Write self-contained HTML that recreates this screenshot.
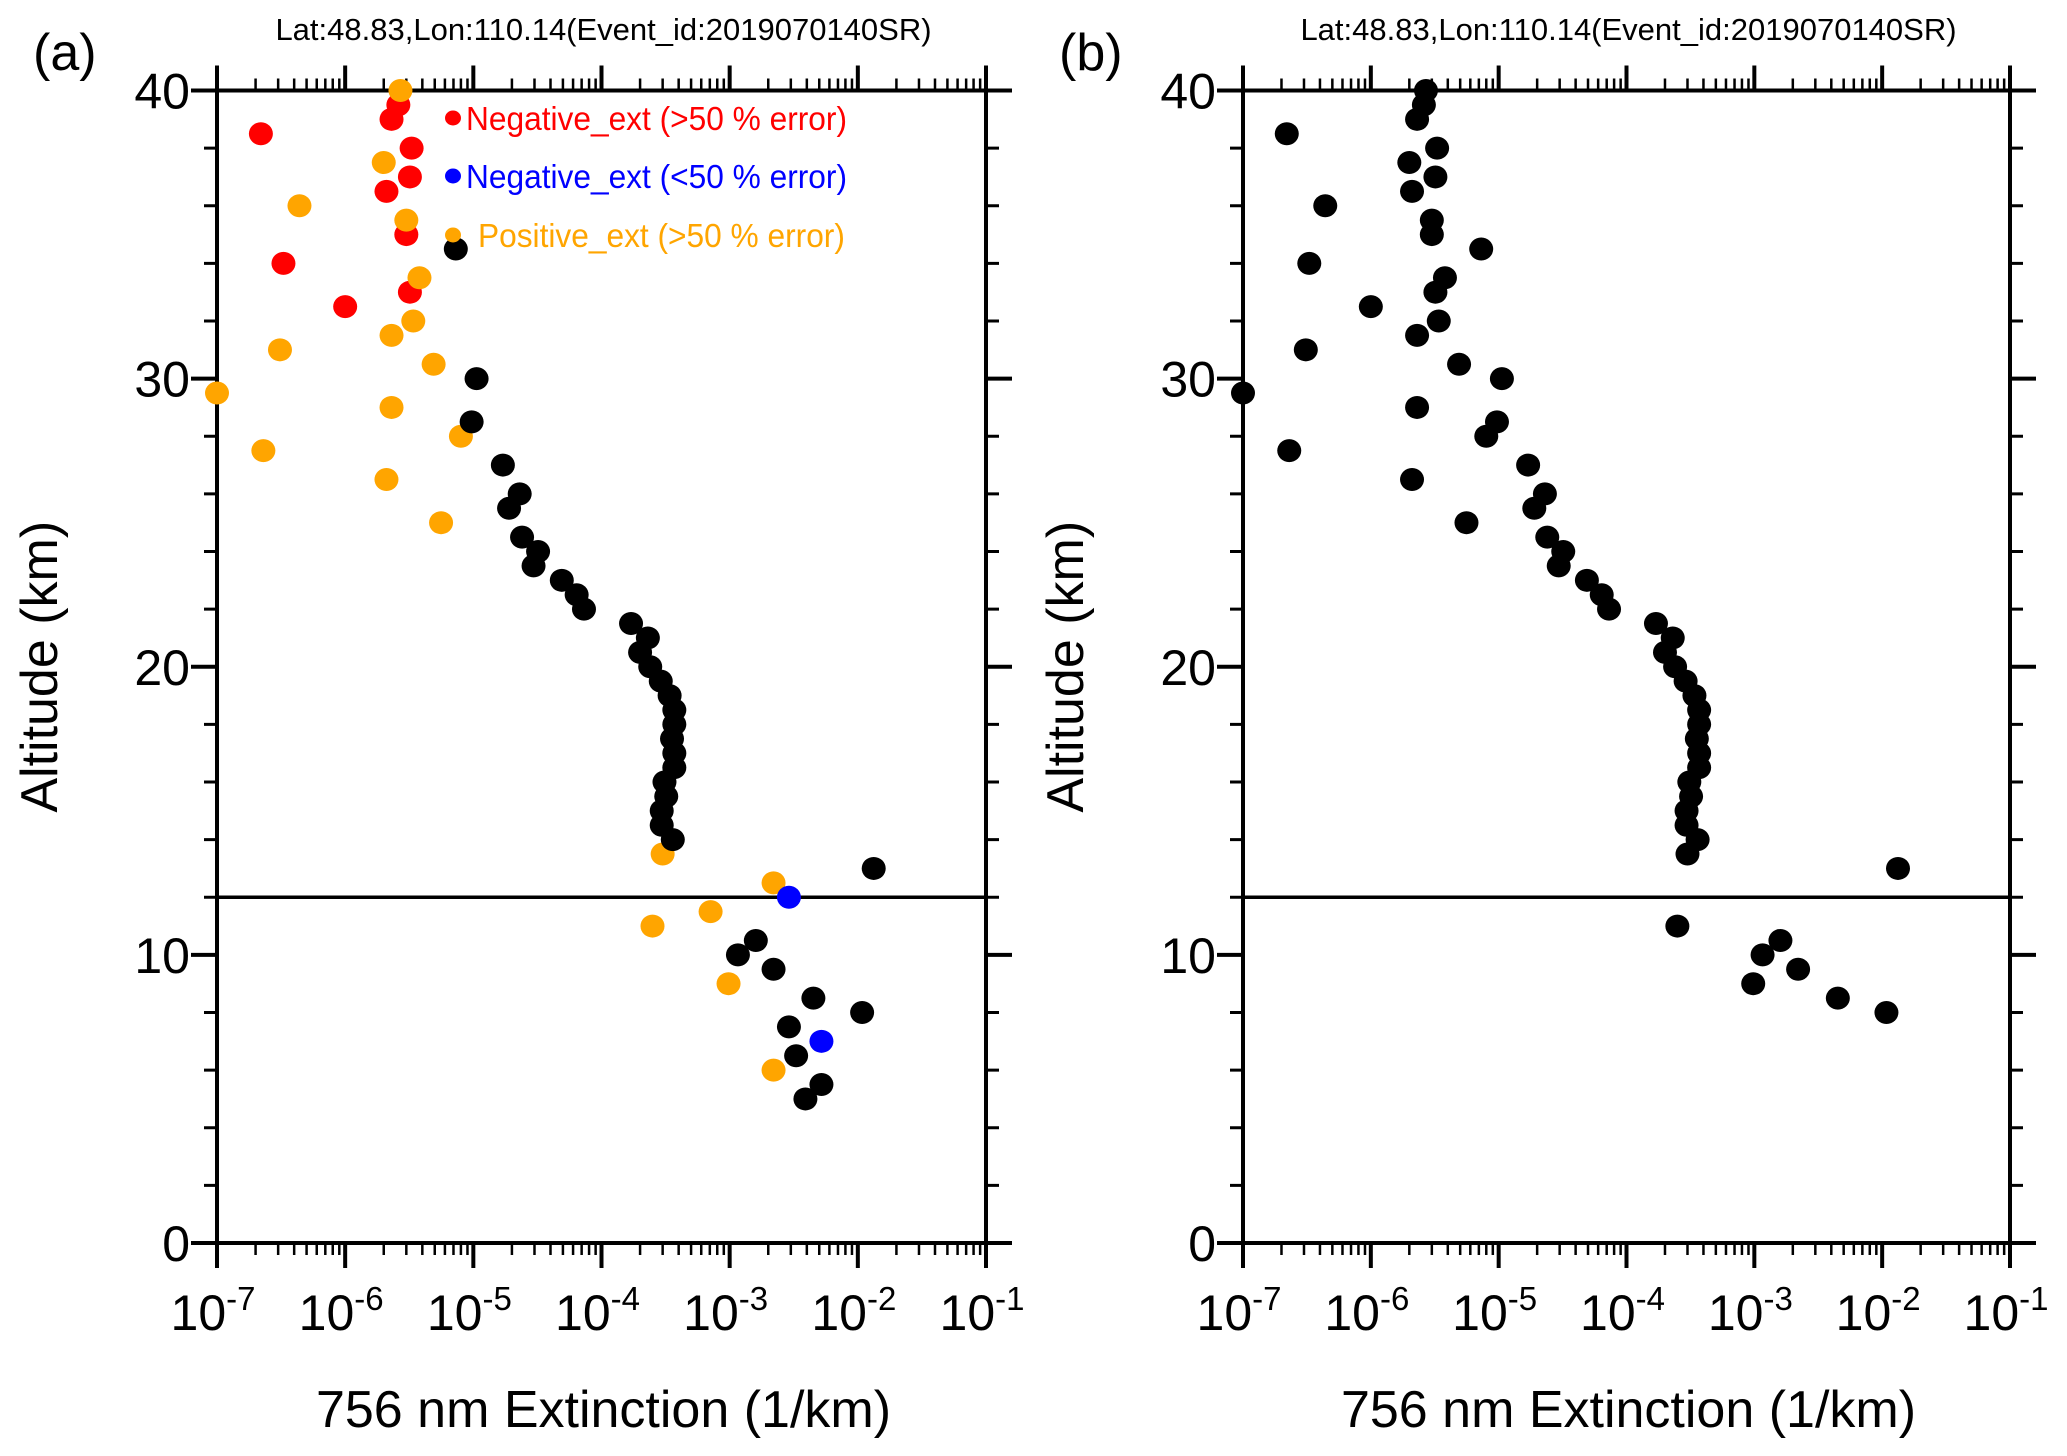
<!DOCTYPE html>
<html><head><meta charset="utf-8"><style>
html,body{margin:0;padding:0;background:#fff;}
svg{display:block;font-family:"Liberation Sans",sans-serif;}
</style></head><body>
<svg id="chart" width="2067" height="1456" viewBox="0 0 2067 1456"></svg>
<script>
const altitudes = [38.5,39,39.5,38,36.5,37,35,34,33,32.5,
  40,37.5,36,35.5,33.5,32,31.5,31,30.5,29.5,29,28,27.5,26.5,25,13.5,12.5,11,11.5,9,6,
  12,7,
  34.5,30,28.5,27,26,25.5,24.5,24,23.5,23,22.5,22,21.5,21,20.5,20,19.5,19,18.5,18,17.5,17,16.5,16,15.5,15,14.5,14,13,10.5,10,9.5,8.5,8,7.5,6.5,5.5,5];
const extinction = [2.2e-7,2.3e-6,2.6e-6,3.3e-6,2.1e-6,3.2e-6,3.0e-6,3.3e-7,3.2e-6,1.0e-6,
  2.7e-6,2.0e-6,4.4e-7,3.0e-6,3.8e-6,3.4e-6,2.3e-6,3.1e-7,4.9e-6,1.0e-7,2.3e-6,8.0e-6,2.3e-7,2.1e-6,5.6e-6,3.0e-4,2.2e-3,2.5e-4,7.1e-4,9.8e-4,2.2e-3,
  2.9e-3,5.2e-3,
  7.3e-6,1.06e-5,9.7e-6,1.7e-5,2.3e-5,1.9e-5,2.4e-5,3.2e-5,2.95e-5,4.9e-5,6.4e-5,7.3e-5,1.7e-4,2.3e-4,2.0e-4,2.4e-4,2.9e-4,3.4e-4,3.7e-4,3.7e-4,3.55e-4,3.7e-4,3.7e-4,3.1e-4,3.2e-4,2.95e-4,2.95e-4,3.6e-4,1.33e-2,1.6e-3,1.16e-3,2.2e-3,4.5e-3,1.08e-2,2.9e-3,3.3e-3,5.2e-3,3.9e-3];
const categories = ['r','r','r','r','r','r','r','r','r','r',
  'o','o','o','o','o','o','o','o','o','o','o','o','o','o','o','o','o','o','o','o','o',
  'b','b',
  'k','k','k','k','k','k','k','k','k','k','k','k','k','k','k','k','k','k','k','k','k','k','k','k','k','k','k','k','k','k','k','k','k','k','k','k','k','k'];
const inB = [1,1,1,1,1,1,1,1,1,1, 1,1,1,1,1,1,1,1,1,1,1,1,1,1,1,1,0,1,0,1,0, 0,0,
  1,1,1,1,1,1,1,1,1,1, 1,1,1,1,1,1,1,1,1,1, 1,1,1,1,1,1,1,1,1,1, 1,1,1,1,0,0,0,0];
const yTicks = [0,10,20,30,40];
const xDecades = [-7,-6,-5,-4,-3,-2,-1];
const tropopause = 12;
const legendLabels = ['Negative_ext (>50 % error)','Negative_ext (<50 % error)','Positive_ext (>50 % error)'];
const colorMap = {r:'#ff0000',b:'#0000ff',o:'#ffa500',k:'#000000'};

const NS='http://www.w3.org/2000/svg';
const svg=document.getElementById('chart');
function mk(tag,attrs,parent){const e=document.createElementNS(NS,tag);for(const k in attrs)e.setAttribute(k,attrs[k]);(parent||svg).appendChild(e);return e;}

const Y0=1243, Y1=90.5;
function yScale(a){return Y0-(a-0)/(40-0)*(Y0-Y1);}

function panel(x0,x1,label,useColor){
  const g=mk('g',{});
  
  
  const xScale=v=>x0+(Math.log10(v)+7)/6*(x1-x0);
  const xl=e=>x0+(e+7)/6*(x1-x0);
  const t=mk('text',{x:(x0+x1)/2+2,y:40,'font-size':31,'text-anchor':'middle',fill:'#000'},g);
  t.textContent='Lat:48.83,Lon:110.14(Event_id:2019070140SR)';
  
  
  const pl=mk('text',{x:x0-184,y:70,'font-size':52,fill:'#000'},g);
  pl.textContent='('+label+')';
  
  
  for(let a=0;a<=40;a+=2){
    const y=yScale(a), maj=a%10===0, L=maj?26:13;
    mk('line',{x1:x0-L,x2:x0,y1:y,y2:y,stroke:'#000','stroke-width':maj?4:3},g);
    mk('line',{x1:x1,x2:x1+L,y1:y,y2:y,stroke:'#000','stroke-width':maj?4:3},g);
  }
  yTicks.forEach(v=>{
    const tx=mk('text',{x:x0-27,y:yScale(v)+18,'font-size':50,'text-anchor':'end',fill:'#000'},g);
    tx.textContent=v;
    
    
  });
  xDecades.forEach((e,i)=>{
    const x=xl(e);
    mk('line',{x1:x,x2:x,y1:Y1-25,y2:Y1,stroke:'#000','stroke-width':4},g);
    mk('line',{x1:x,x2:x,y1:Y0,y2:Y0+25,stroke:'#000','stroke-width':4},g);
    if(i<xDecades.length-1){
      for(let m=2;m<=9;m++){
        const xm=xl(e+Math.log10(m));
        mk('line',{x1:xm,x2:xm,y1:Y1-12,y2:Y1,stroke:'#000','stroke-width':2.5},g);
        mk('line',{x1:xm,x2:xm,y1:Y0,y2:Y0+12,stroke:'#000','stroke-width':2.5},g);
      }
    }
    const tx=mk('text',{x:x-4,y:1330,'font-size':50,'text-anchor':'middle',fill:'#000'},g);
    
    
    tx.appendChild(document.createTextNode('10'));
    const sp=mk('tspan',{dy:-20,'font-size':33},tx); sp.textContent=String(e);
  });
  const fr=mk('rect',{x:x0,y:Y1,width:x1-x0,height:Y0-Y1,fill:'none',stroke:'#000','stroke-width':4},g);
  
  
  const tl=mk('line',{x1:x0,x2:x1,y1:yScale(tropopause),y2:yScale(tropopause),stroke:'#000','stroke-width':3.5},g);
  
  
  const xt=mk('text',{x:(x0+x1)/2+2,y:1427,'font-size':52,'text-anchor':'middle',fill:'#000'},g);
  xt.textContent='756 nm Extinction (1/km)';
  
  
  const yt=mk('text',{x:0,y:0,'font-size':52,'text-anchor':'middle',fill:'#000',transform:'translate('+(x0-160)+','+((Y0+Y1)/2)+') rotate(-90)'},g);
  yt.textContent='Altitude (km)';
  
  
  altitudes.forEach((a,i)=>{
    if(!useColor && !inB[i]) return;
    const c=mk('ellipse',{cx:xScale(extinction[i]),cy:yScale(a),rx:12,ry:11.5,fill:useColor?colorMap[categories[i]]:'#000'},g);
    
    
  });
  if(useColor){
    const lc=['#ff0000','#0000ff','#ffa500'];
    const ly=[118,176,235];
    const tx0=[466,466,478];
    legendLabels.forEach((s,i)=>{
      const lg=mk('g',{},g);
      
      
      mk('ellipse',{cx:453,cy:ly[i],rx:8,ry:7.5,fill:lc[i]},lg);
      const tt=mk('text',{x:0,y:0,'font-size':33,fill:lc[i],transform:'translate('+tx0[i]+','+(ly[i]+12)+') scale(0.96,1)'},lg);
      tt.textContent=s;
    });
  }
}
panel(217,986,'a',true);
panel(1243,2010,'b',false);
</script>
</body></html>
